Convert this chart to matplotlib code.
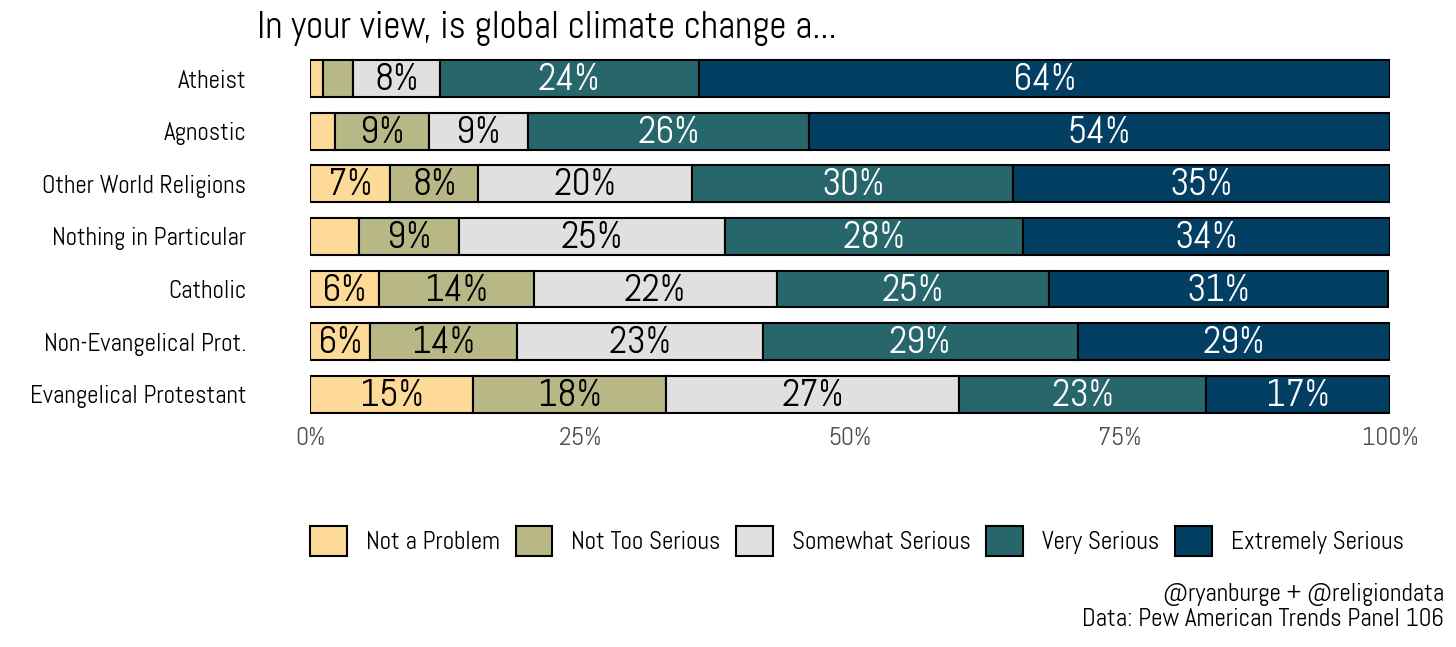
import matplotlib
matplotlib.use('Agg')
import matplotlib.pyplot as plt
import numpy as np
from matplotlib.patches import Patch

plt.rcParams['font.family'] = ['Abel', 'DejaVu Sans']

groups = ['Atheist', 'Agnostic', 'Other World Religions', 'Nothing in Particular',
          'Catholic', 'Non-Evangelical Prot.', 'Evangelical Protestant']
answers = ['Not a Problem', 'Not Too Serious', 'Somewhat Serious', 'Very Serious', 'Extremely Serious']

not_problem = [1.2, 2.3, 7.4, 4.5, 6.4, 5.6, 15.1]
not_too = [2.8, 8.7, 8.2, 9.3, 14.3, 13.6, 17.9]
somewhat = [8.0, 9.2, 19.8, 24.6, 22.5, 22.7, 27.1]
very = [24.0, 26.0, 29.7, 27.6, 25.2, 29.2, 22.9]
extremely = [64.0, 53.8, 34.9, 34.0, 31.4, 28.9, 17.0]

colors = ['#fdda97', '#b7b885', '#e0e0e0', '#27676c', '#033e63']
text_colors = ['black', 'black', 'black', 'white', 'white']

series = [not_problem, not_too, somewhat, very, extremely]

fig = plt.figure(figsize=(14.56, 6.47), dpi=100)
ax = fig.add_axes([310/1456, 0.350, 1080/1456, 0.569])

y = np.arange(len(groups))
left = np.zeros(len(groups))
for vals, col, tcol in zip(series, colors, text_colors):
    vals = np.array(vals)
    ax.barh(y, vals, left=left, height=0.7, color=col, edgecolor='black', linewidth=1.5)
    for yi, (l, v) in enumerate(zip(left, vals)):
        if v >= 5:
            ax.text(l + v/2, yi + 0.04, '%d%%' % round(v), ha='center', va='center',
                    fontsize=27, color=tcol)
    left = left + vals

ax.set_ylim(len(groups) - 0.5, -0.5)
ax.set_xlim(0, 100)
ax.set_yticks(y)
ax.set_yticklabels(groups, fontsize=18)
ax.set_xticks([0, 25, 50, 75, 100])
ax.set_xticklabels(['0%', '25%', '50%', '75%', '100%'], fontsize=18.5, color='#4d4d4d')
ax.tick_params(length=0, pad=5)
ax.tick_params(axis='y', pad=46)
for s in ax.spines.values():
    s.set_visible(False)

fig.text(257/1456, 1 - 29/647, 'In your view, is global climate change a...', fontsize=27.2,
         ha='left', va='center')

handles = [Patch(facecolor=c, edgecolor='black', linewidth=1.5) for c in colors]
fig.legend(handles, answers, loc='center', bbox_to_anchor=(857/1456, 1 - 541/647),
           ncol=5, frameon=False, fontsize=18.2, handlelength=1.45, handleheight=1.45,
           columnspacing=0.62, handletextpad=0.75)

fig.text(1444/1456, 1 - 594/647, '@ryanburge + @religiondata', fontsize=18.2, ha='right', va='center')
fig.text(1444/1456, 1 - 620/647, 'Data: Pew American Trends Panel 106', fontsize=18.2, ha='right', va='center')

fig.savefig('out.png', dpi=100)
